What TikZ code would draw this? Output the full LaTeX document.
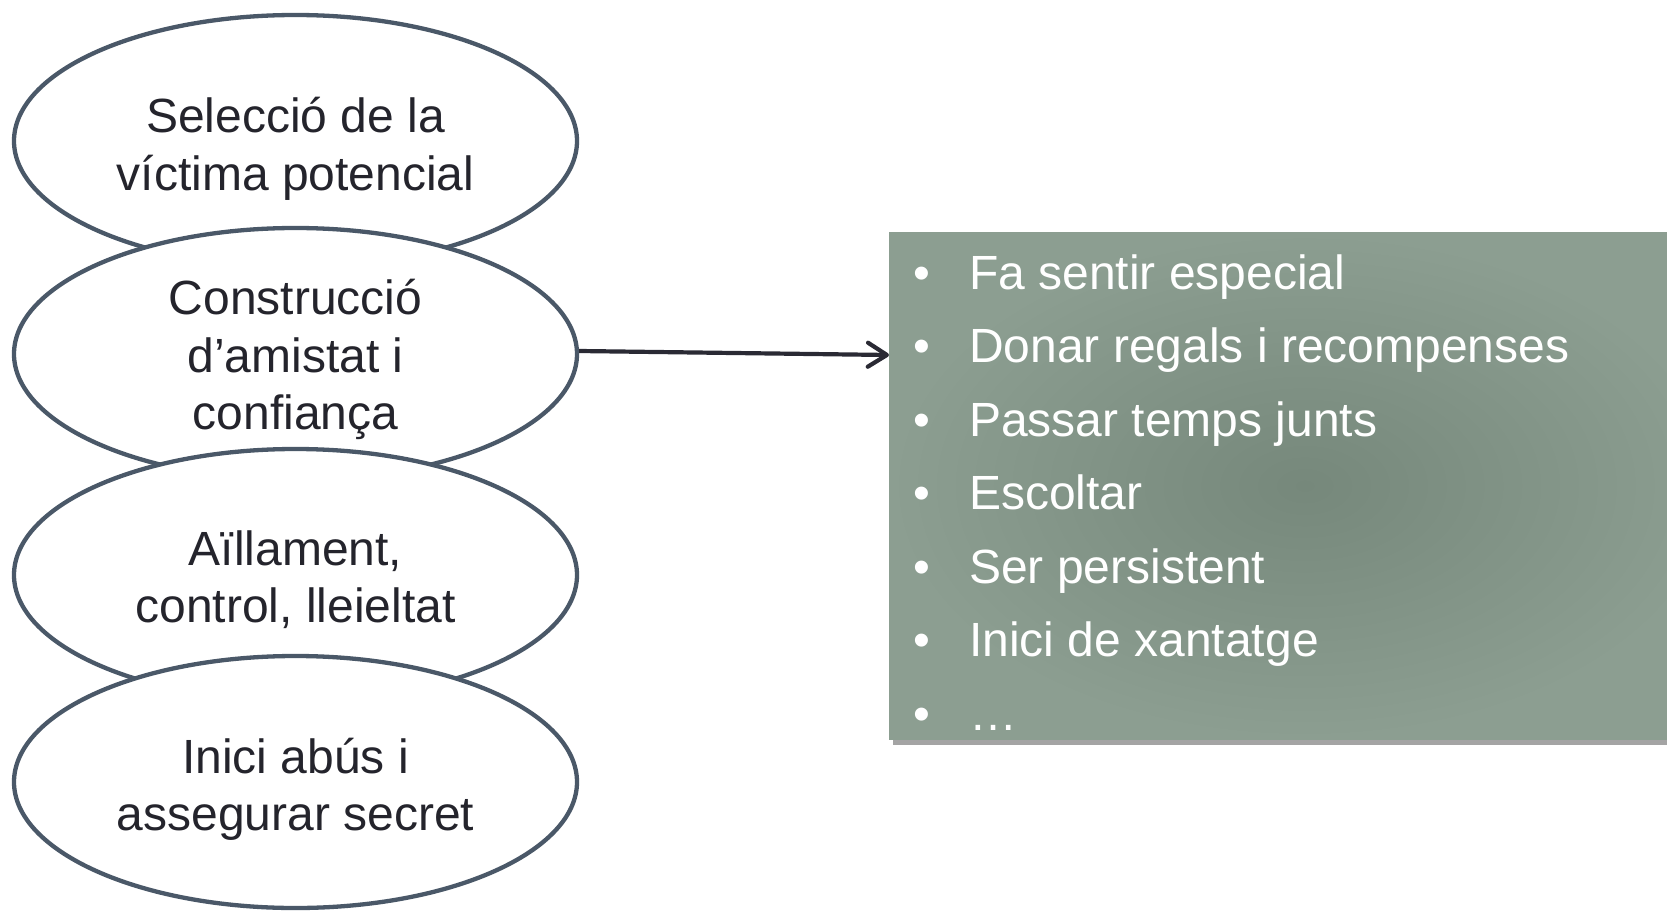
\documentclass[tikz,border=0pt]{standalone}
\usepackage{fontspec}
\setmainfont{Liberation Sans}
\usetikzlibrary{arrows.meta,shapes.geometric}
\definecolor{ellline}{HTML}{4A5868}
\definecolor{elltext}{HTML}{24242C}
\definecolor{arrowcol}{HTML}{2A2A34}
\definecolor{boxedge}{HTML}{8C9E91}
\definecolor{boxmid}{HTML}{76887B}
\definecolor{shadowcol}{HTML}{A4A4A4}
\tikzset{
  stage/.style={ellipse, draw=ellline, line width=4.3pt, fill=white,
    minimum width=563pt, minimum height=252pt, inner sep=0pt},
  stagetext/.style={align=center, text=elltext, inner sep=0pt,
    font=\fontsize{48}{57.4}\selectfont},
  listline/.style={anchor=base west, text=white, inner sep=0pt,
    font=\fontsize{48}{56}\selectfont},
  flow/.style={draw=arrowcol, line width=4.2pt,
    -{Straight Barb[length=19pt,width=24pt,line cap=round,line join=round]}}
}
\begin{document}
\begin{tikzpicture}[x=1pt,y=-1pt]
\useasboundingbox (0,0) rectangle (1667,910);
% shadow and box
\fill[shadowcol] (893,238) rectangle (1720,745);
\node[anchor=north west, minimum width=831pt, minimum height=507pt, inner sep=0pt,
      inner color=boxmid, outer color=boxedge, shade] (box) at (889,232) {};
% list
\foreach \i/\t in {1/Fa sentir especial,2/Donar regals i recompenses,3/Passar temps junts,4/Escoltar,5/Ser persistent,6/Inici de xantatge}{
  \node[listline] (b\i) at (913,{289.5+73.4*(\i-1)}) {•};
  \node[listline] (l\i) at (969,{289.5+73.4*(\i-1)}) {\t};
}
\node[listline] (b7) at (913,730) {•};
\node[listline] (l7) at (969,730) {…};
% ellipses
\node[stage] (e1) at (295.5,141) {};
\node[stagetext] (t1) at ([yshift=-8pt]e1.center) {Selecció de la\\víctima potencial};
\node[stage] (e2) at (295.5,354) {};
\node[stagetext] (t2) at ([yshift=-5.5pt]e2.center) {Construcció\\d’amistat i\\confiança};
\node[stage] (e3) at (295.5,575) {};
\node[stagetext] (t3) at ([yshift=-4.7pt]e3.center) {Aïllament,\\control, lleieltat};
\node[stage] (e4) at (295.5,782) {};
\node[stagetext] (t4) at ([yshift=-7pt]e4.center) {Inici abús i\\assegurar secret};
% connector
\coordinate (tip) at (889,355);
\draw[flow] ([yshift=3pt]e2.east) -- (tip);
\end{tikzpicture}
\end{document}
